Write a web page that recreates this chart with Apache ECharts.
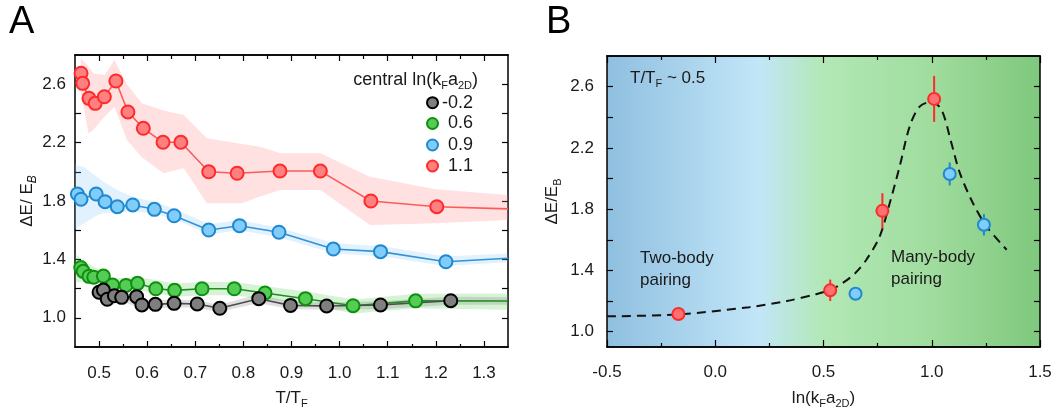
<!DOCTYPE html>
<html><head><meta charset="utf-8">
<script src="https://cdn.jsdelivr.net/npm/echarts@6/dist/echarts.min.js"></script>
<style>html,body{margin:0;padding:0;background:#fff}#c{width:1062px;height:417px}</style>
</head><body><div id="c"></div>
<script>
// ---------- Panel A data ----------
const blackX = [0.500, 0.509, 0.517, 0.532, 0.547, 0.578, 0.589, 0.617, 0.656, 0.704, 0.751, 0.832, 0.898, 0.973, 1.085, 1.231];
const blackY = [1.175, 1.190, 1.127, 1.151, 1.140, 1.145, 1.088, 1.092, 1.099, 1.095, 1.065, 1.131, 1.085, 1.081, 1.088, 1.117];
const greenX = [0.462, 0.467, 0.479, 0.489, 0.509, 0.528, 0.556, 0.580, 0.618, 0.657, 0.714, 0.781, 0.845, 0.929, 1.028, 1.158];
const greenY = [1.345, 1.318, 1.284, 1.278, 1.286, 1.225, 1.222, 1.236, 1.199, 1.188, 1.199, 1.199, 1.170, 1.131, 1.083, 1.116];
const greenEnd = 1.115;
const blueX = [0.455, 0.4625, 0.494, 0.5125, 0.538, 0.570, 0.615, 0.656, 0.728, 0.792, 0.874, 0.987, 1.085, 1.221];
const blueY = [1.848, 1.812, 1.848, 1.795, 1.761, 1.773, 1.743, 1.699, 1.601, 1.631, 1.586, 1.471, 1.453, 1.384];
const blueEnd = 1.408;
const redX = [0.4625, 0.466, 0.479, 0.492, 0.511, 0.535, 0.560, 0.592, 0.633, 0.670, 0.728, 0.787, 0.876, 0.960, 1.065, 1.202];
const redY = [2.675, 2.606, 2.503, 2.469, 2.514, 2.622, 2.410, 2.298, 2.202, 2.202, 2.000, 1.990, 2.005, 2.005, 1.800, 1.761];
const redEnd = 1.746;

// uncertainty bands (x, lower, upper)
const blackBandX = [0.49, 0.52, 0.55, 0.59, 0.62, 0.66, 0.70, 0.75, 0.83, 0.90, 0.97, 1.09, 1.23, 1.35];
const blackBandLo = [1.14, 1.10, 1.11, 1.06, 1.065, 1.07, 1.07, 1.04, 1.10, 1.06, 1.055, 1.06, 1.09, 1.09];
const blackBandHi = [1.21, 1.17, 1.17, 1.12, 1.12, 1.125, 1.12, 1.09, 1.16, 1.11, 1.105, 1.115, 1.145, 1.14];
const greenBandX = [0.45, 0.47, 0.50, 0.53, 0.58, 0.66, 0.72, 0.78, 0.85, 0.93, 1.03, 1.16, 1.35];
const greenBandLo = [1.24, 1.25, 1.24, 1.19, 1.19, 1.145, 1.155, 1.155, 1.125, 1.09, 1.03, 1.065, 1.055];
const greenBandHi = [1.44, 1.38, 1.33, 1.27, 1.28, 1.235, 1.245, 1.245, 1.215, 1.18, 1.125, 1.165, 1.167];
const blueBandX = [0.45, 0.47, 0.49, 0.51, 0.54, 0.57, 0.62, 0.66, 0.73, 0.79, 0.87, 0.99, 1.09, 1.22, 1.35];
const blueBandLo = [1.61, 1.65, 1.69, 1.72, 1.72, 1.73, 1.71, 1.67, 1.57, 1.60, 1.555, 1.44, 1.42, 1.355, 1.38];
const blueBandHi = [2.05, 2.03, 1.98, 1.93, 1.87, 1.83, 1.79, 1.74, 1.64, 1.67, 1.62, 1.51, 1.49, 1.42, 1.44];
const redBandX = [0.462, 0.478, 0.488, 0.512, 0.532, 0.558, 0.589, 0.634, 0.676, 0.724, 0.797, 0.835, 0.877, 0.960, 1.063, 1.200, 1.350];
const redBandLo = [2.55, 2.264, 2.286, 2.38, 2.446, 2.218, 2.10, 1.99, 2.024, 1.784, 1.784, 1.83, 1.875, 1.875, 1.636, 1.647, 1.67];
const redBandHi = [2.78, 2.72, 2.675, 2.663, 2.766, 2.60, 2.469, 2.42, 2.389, 2.23, 2.19, 2.172, 2.127, 2.127, 1.966, 1.88, 1.841];

const legendNames = ['-0.2', '0.6', '0.9', '1.1'];

// Panel A axes
const aXMajor = [0.5, 0.6, 0.7, 0.8, 0.9, 1.0, 1.1, 1.2, 1.3];
const aXMinor = [0.55, 0.65, 0.75, 0.85, 0.95, 1.05, 1.15, 1.25];
const aYTicks = [1.0, 1.2, 1.4, 1.6, 1.8, 2.0, 2.2, 2.4, 2.6];
const aYLabels = [1.0, 1.4, 1.8, 2.2, 2.6];

// ---------- Panel B data ----------
const bRedX = [-0.17, 0.531, 0.772, 1.011];
const bRedY = [1.115, 1.270, 1.789, 2.520];
const bRedErr = [0.03, 0.07, 0.115, 0.15];
const bBlueX = [0.648, 1.083, 1.241];
const bBlueY = [1.248, 2.030, 1.698];
const bBlueErr = [0.02, 0.075, 0.07];
const curveX = [-0.5, -0.17, 0.157, 0.33, 0.466, 0.53, 0.589, 0.645, 0.698, 0.759, 0.806, 0.852, 0.898, 0.944, 0.998, 1.045, 1.091, 1.13, 1.19, 1.253, 1.346];
const curveY = [1.10, 1.113, 1.16, 1.20, 1.245, 1.272, 1.318, 1.38, 1.47, 1.62, 1.84, 2.08, 2.34, 2.47, 2.50, 2.45, 2.23, 2.035, 1.84, 1.687, 1.535];

const bXMajor = [-0.5, 0.0, 0.5, 1.0, 1.5];
const bXMinor = [-0.25, 0.25, 0.75, 1.25];
const bYTicks = [1.0, 1.2, 1.4, 1.6, 1.8, 2.0, 2.2, 2.4, 2.6];
const bYLabels = [1.0, 1.4, 1.8, 2.2, 2.6];

// ---------- styles ----------
const FONT = 'Liberation Sans, Arial, sans-serif';
const TXT = '#1a1a1a';
const styles = {
  black: {fill: '#7f7f7f', border: '#000000', line: '#4d4d4d', band: 'rgba(110,110,110,0.22)'},
  green: {fill: '#55cc55', border: '#0e900e', line: '#1f8f1f', band: 'rgba(70,200,70,0.22)'},
  blue:  {fill: '#80ccfa', border: '#1f88cf', line: '#2f93d6', band: 'rgba(120,195,250,0.22)'},
  red:   {fill: '#ff8080', border: '#ff2a2a', line: '#ff5a5a', band: 'rgba(255,130,130,0.24)'}
};

function zip(xs, ys) { return xs.map((x, i) => [x, ys[i]]); }

function xAxis(grid, pos, min, max, ticks, len, labels, name, margin) {
  return {
    type: 'value', gridIndex: grid, position: pos, min: min, max: max,
    axisLine: {show: true, onZero: false, lineStyle: {color: '#000', width: 1.5}},
    axisTick: {show: true, inside: true, length: len, customValues: ticks, lineStyle: {color: '#000', width: 1.2}},
    axisLabel: labels ? {show: true, customValues: labels, formatter: v => (+v).toFixed(1), color: TXT, fontSize: 17, fontFamily: FONT, margin: margin}
                      : {show: false},
    splitLine: {show: false},
    name: name || '', nameLocation: 'middle', nameGap: 40,
    nameTextStyle: {color: TXT, fontFamily: FONT, fontSize: 17,
      rich: {m: {fontSize: 17, fontFamily: FONT, color: TXT, lineHeight: 22},
             s: {fontSize: 11, fontFamily: FONT, color: TXT, lineHeight: 12, verticalAlign: 'bottom'}}}
  };
}
function yAxis(grid, pos, min, max, ticks, labels, name, gap, margin) {
  return {
    type: 'value', gridIndex: grid, position: pos, min: min, max: max,
    axisLine: {show: true, onZero: false, lineStyle: {color: '#000', width: 1.5}},
    axisTick: {show: true, inside: true, length: 6, customValues: ticks, lineStyle: {color: '#000', width: 1.2}},
    axisLabel: labels ? {show: true, customValues: labels, formatter: v => (+v).toFixed(1), color: TXT, fontSize: 17, fontFamily: FONT, margin: margin}
                      : {show: false},
    splitLine: {show: false},
    name: name || '', nameLocation: 'middle', nameGap: gap || 0,
    nameTextStyle: {color: TXT, fontFamily: FONT, fontSize: 17,
      rich: {m: {fontSize: 17, fontFamily: FONT, color: TXT, lineHeight: 22},
             s: {fontSize: 11, fontFamily: FONT, color: TXT, lineHeight: 12, verticalAlign: 'bottom'},
             si: {fontSize: 12, fontFamily: FONT, fontStyle: 'italic', color: TXT, lineHeight: 12, verticalAlign: 'bottom'}}}
  };
}

function bandSeries(xs, lo, hi, color, xi, yi) {
  const rows = xs.map((x, i) => [x, lo[i], hi[i]]);
  return {
    type: 'custom', xAxisIndex: xi, yAxisIndex: yi, silent: true, z: 1,
    data: rows, encode: {x: 0, y: [1, 2]},
    renderItem: function (params, api) {
      if (params.dataIndex !== 0) return null;
      const pts = [];
      rows.forEach(r => pts.push(api.coord([r[0], r[2]])));
      for (let i = rows.length - 1; i >= 0; i--) pts.push(api.coord([rows[i][0], rows[i][1]]));
      return {type: 'polygon', shape: {points: pts}, style: {fill: color, stroke: null}};
    }
  };
}

function lineSeries(key, xs, ys, endY) {
  const st = styles[key];
  const data = zip(xs, ys).map(p => ({value: p}));
  if (endY !== undefined) data.push({value: [1.35, endY], symbol: 'none'});
  return {
    type: 'line', xAxisIndex: 0, yAxisIndex: 0, data: data, z: 3,
    symbol: 'circle', symbolSize: 13, showAllSymbol: true, clip: true,
    lineStyle: {color: st.line, width: 1.6},
    itemStyle: {color: st.fill, borderColor: st.border, borderWidth: 2},
    emphasis: {disabled: true}
  };
}

function errSeries(xs, ys, es, color) {
  return {
    type: 'custom', xAxisIndex: 4, yAxisIndex: 2, z: 4, silent: true,
    data: xs.map((x, i) => [x, ys[i], es[i]]),
    encode: {x: 0, y: 1},
    renderItem: function (params, api) {
      const x = api.value(0), y = api.value(1), e = api.value(2);
      const p1 = api.coord([x, y - e]), p2 = api.coord([x, y + e]);
      return {type: 'line', shape: {x1: p1[0], y1: p1[1], x2: p2[0], y2: p2[1]}, style: {stroke: color, lineWidth: 2}};
    }
  };
}

const legendKeys = ['black', 'green', 'blue', 'red'];
const legendY = [102.7, 123.5, 145, 166];
const graphics = [
  {type: 'text', x: 9, y: 4, style: {text: 'A', font: '38px ' + FONT, fill: '#000'}},
  {type: 'text', x: 546, y: 4, style: {text: 'B', font: '38px ' + FONT, fill: '#000'}},
  {type: 'text', x: 478, y: 80, z: 10, style: {
    text: '{m|central ln(k}{s|F}{m|a}{s|2D}{m|)}', align: 'right', verticalAlign: 'middle',
    rich: {m: {fontSize: 18, fontFamily: FONT, fill: TXT, lineHeight: 22},
           s: {fontSize: 11, fontFamily: FONT, fill: TXT, lineHeight: 12, verticalAlign: 'bottom'}}}},
  {type: 'text', x: 630, y: 78, z: 10, style: {
    text: '{m|T/T}{s|F}{m| ~ 0.5}', verticalAlign: 'middle',
    rich: {m: {fontSize: 17, fontFamily: FONT, fill: TXT, lineHeight: 22},
           s: {fontSize: 11, fontFamily: FONT, fill: TXT, lineHeight: 12, verticalAlign: 'bottom'}}}},
  {type: 'text', x: 640, y: 247, z: 10, style: {text: 'Two-body\npairing', font: '17px ' + FONT, fill: TXT, lineHeight: 22}},
  {type: 'text', x: 891, y: 246, z: 10, style: {text: 'Many-body\npairing', font: '17px ' + FONT, fill: TXT, lineHeight: 22}}
];
legendKeys.forEach((k, i) => {
  graphics.push({type: 'circle', z: 10, shape: {cx: 432.5, cy: legendY[i], r: 5.5},
    style: {fill: styles[k].fill, stroke: styles[k].border, lineWidth: 2}});
  graphics.push({type: 'text', x: 473, y: legendY[i], z: 10, style: {text: legendNames[i], font: '18px ' + FONT, fill: TXT, align: 'right', verticalAlign: 'middle'}});
});

const chart = echarts.init(document.getElementById('c'), null, {renderer: 'canvas'});
chart.setOption({
  animation: false,
  backgroundColor: '#ffffff',
  grid: [
    {left: 75, top: 55, width: 433, height: 292, containLabel: false},
    {left: 607, top: 56, width: 433, height: 291, containLabel: false, show: true, borderWidth: 0,
     backgroundColor: new echarts.graphic.LinearGradient(0, 0, 1, 0, [
       {offset: 0, color: '#8fbfe0'},
       {offset: 0.35, color: '#c2e6f8'},
       {offset: 0.50, color: '#b2e8b6'},
       {offset: 0.75, color: '#a0dc9e'},
       {offset: 1, color: '#7fc87d'}])}
  ],
  xAxis: [
    xAxis(0, 'bottom', 0.45, 1.35, aXMajor, 6, aXMajor, '{m|T/T}{s|F}', 18),
    xAxis(0, 'bottom', 0.45, 1.35, aXMinor, 3, null),
    xAxis(0, 'top', 0.45, 1.35, aXMajor, 6, null),
    xAxis(0, 'top', 0.45, 1.35, aXMinor, 4, null),
    xAxis(1, 'bottom', -0.5, 1.5, bXMajor, 7, bXMajor, '{m|ln(k}{s|F}{m|a}{s|2D}{m|)}', 17),
    xAxis(1, 'bottom', -0.5, 1.5, bXMinor, 4, null),
    xAxis(1, 'top', -0.5, 1.5, bXMajor, 7, null),
    xAxis(1, 'top', -0.5, 1.5, bXMinor, 4, null)
  ],
  yAxis: [
    yAxis(0, 'left', 0.8, 2.8, aYTicks, aYLabels, '{m|ΔE/ E}{si|B}', 35, 9),
    yAxis(0, 'right', 0.8, 2.8, aYTicks, null),
    yAxis(1, 'left', 0.9, 2.8, bYTicks, bYLabels, '{m|ΔE/E}{s|B}', 44, 13),
    yAxis(1, 'right', 0.9, 2.8, bYTicks, null)
  ],
  series: [
    bandSeries(redBandX, redBandLo, redBandHi, styles.red.band, 0, 0),
    bandSeries(blueBandX, blueBandLo, blueBandHi, styles.blue.band, 0, 0),
    bandSeries(greenBandX, greenBandLo, greenBandHi, styles.green.band, 0, 0),
    bandSeries(blackBandX, blackBandLo, blackBandHi, styles.black.band, 0, 0),
    lineSeries('red', redX, redY, redEnd),
    lineSeries('blue', blueX, blueY, blueEnd),
    lineSeries('green', greenX, greenY, greenEnd),
    lineSeries('black', blackX, blackY),
    {type: 'line', xAxisIndex: 4, yAxisIndex: 2, data: zip(curveX, curveY), smooth: 0.3, symbol: 'none', z: 2,
     lineStyle: {color: '#111', width: 2, type: [9, 6]}},
    errSeries(bRedX, bRedY, bRedErr, '#ff2a2a'),
    errSeries(bBlueX, bBlueY, bBlueErr, '#1f88cf'),
    {type: 'scatter', xAxisIndex: 4, yAxisIndex: 2, data: zip(bRedX, bRedY), symbol: 'circle', symbolSize: 12, z: 5,
     itemStyle: {color: '#ff7070', borderColor: '#ff2a2a', borderWidth: 2, opacity: 1}},
    {type: 'scatter', xAxisIndex: 4, yAxisIndex: 2, data: zip(bBlueX, bBlueY), symbol: 'circle', symbolSize: 12, z: 5,
     itemStyle: {color: '#80ccfa', borderColor: '#1f88cf', borderWidth: 2, opacity: 1}}
  ],
  graphic: graphics
});
</script>
</body></html>
